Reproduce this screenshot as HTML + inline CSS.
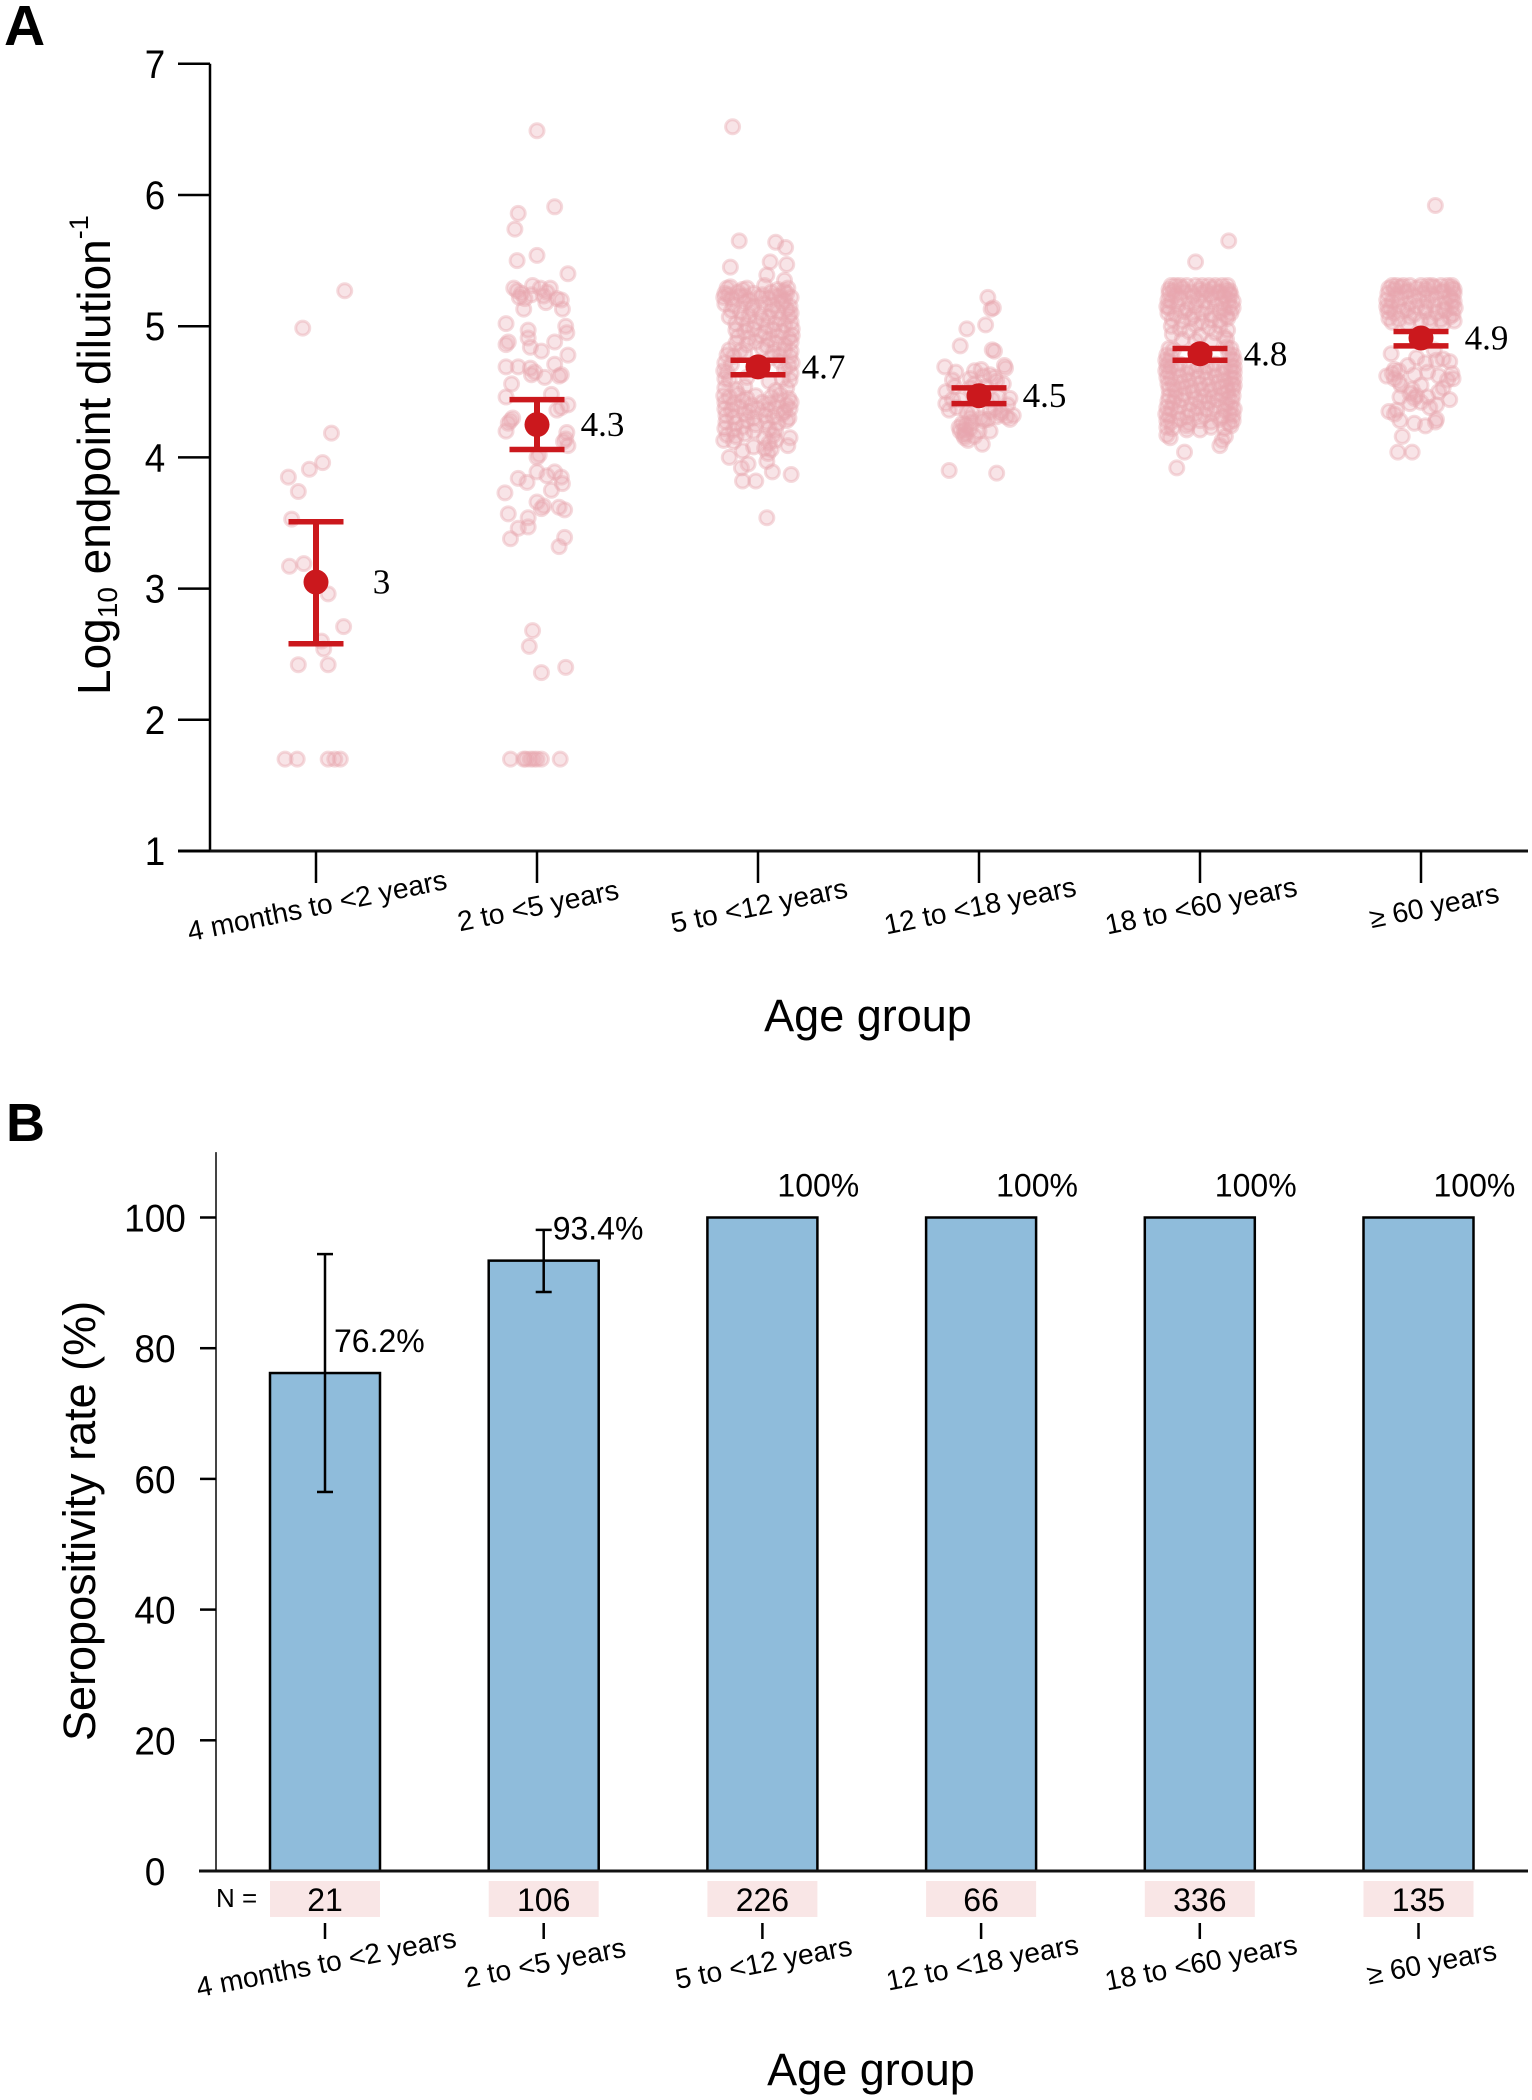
<!DOCTYPE html>
<html lang="en">
<head>
<meta charset="utf-8">
<title>Antibody titers and seropositivity by age group</title>
<style>
html,body{margin:0;padding:0;background:#fff;}
svg{display:block;}
text{font-family:"Liberation Sans",Arial,sans-serif;fill:#000;}
.serif{font-family:"Liberation Serif","Times New Roman",serif;}
</style>
</head>
<body>
<svg id="chart" xmlns="http://www.w3.org/2000/svg" width="1532" height="2100" viewBox="0 0 1532 2100">
  <rect x="0" y="0" width="1532" height="2100" fill="#fff"/>
  <text x="4" y="45" font-size="57" font-weight="bold">A</text>
  <text x="6" y="1141" font-size="54" font-weight="bold">B</text>
  <text transform="translate(110,695) rotate(-90)" font-size="46">Log<tspan font-size="28" dy="7">10</tspan><tspan dy="-7"> endpoint dilution</tspan><tspan font-size="27" dy="-22">-1</tspan></text>
  <text x="868" y="1031" font-size="45" text-anchor="middle">Age group</text>
  <text transform="translate(95,1741) rotate(-90)" font-size="45">Seropositivity rate (%)</text>
  <text x="871" y="2085" font-size="45" text-anchor="middle">Age group</text>
  <text x="216" y="1907" font-size="26">N =</text>
  <g id="panelA"></g>
  <g id="panelB"></g>
</svg>
<script>
const categories = ["4 months to <2 years","2 to <5 years","5 to <12 years","12 to <18 years","18 to <60 years","\u2265 60 years"];
const ticksA = [1,2,3,4,5,6,7];
const ticksB = [0,20,40,60,80,100];
const gmtMean = [3.05,4.25,4.69,4.47,4.79,4.91];
const gmtUpper = [3.51,4.44,4.74,4.53,4.83,4.96];
const gmtLower = [2.58,4.06,4.63,4.41,4.74,4.85];
const gmtPrinted = ["3","4.3","4.7","4.5","4.8","4.9"];
const seroRate = [76.2,93.4,100,100,100,100];
const seroPrinted = ["76.2%","93.4%","100%","100%","100%","100%"];
const seroUpper = [94.4,98.1,null,null,null,null];
const seroLower = [58,88.6,null,null,null,null];
const nCounts = ["21","106","226","66","336","135"];

// each point: [log10 titer, horizontal jitter in category units]
const scatter1 = [[5.27,.13],[4.985,-.06],[4.185,.07],[3.96,.03],[3.91,-.03],[3.85,-.125],[3.74,-.08],[3.53,-.11],[3.17,-.12],[3.19,-.055],[2.96,.055],[2.71,.125],[2.6,.025],[2.54,.035],[2.42,-.08],[2.42,.055],[1.7,-.14],[1.7,-.085],[1.7,.055],[1.7,.085],[1.7,.11]];
const scatter2 = [[6.49,0],[5.91,.08],[5.86,-.085],[5.74,-.1],[5.4,.14],[5.54,0],[5.5,-.09],[5.29,-.105],[5.25,-.07],[5.31,-.02],[5.29,.015],[5.29,.06],[5.21,-.055],[5.24,-.025],[5.23,.03],[5.21,.09],[5.2,.11],[5.13,-.06],[5.18,.04],[5.13,.115],[5.27,-.09],[5.26,.045],[5.22,-.08],[5.02,-.14],[4.97,-.04],[5,.13],[4.95,.135],[4.91,-.04],[4.88,.08],[4.88,-.13],[4.86,-.14],[4.84,-.03],[4.81,.02],[4.78,.14],[4.69,-.14],[4.69,-.085],[4.68,-.03],[4.71,.08],[4.65,-.01],[4.63,.11],[4.61,.035],[4.62,.1],[4.63,-.025],[4.56,-.115],[4.46,-.14],[4.48,.065],[4.4,.14],[4.38,.11],[4.36,.09],[4.3,-.11],[4.28,-.12],[4.26,-.13],[4.2,-.14],[4.19,.135],[4.14,.13],[4.09,.14],[4.12,.12],[4,0],[4.02,.01],[3.89,.08],[3.84,-.085],[3.81,-.045],[3.89,0],[3.86,.045],[3.85,.11],[3.8,.115],[3.75,.065],[3.73,-.145],[3.66,0],[3.57,-.13],[3.61,.02],[3.63,.03],[3.62,.1],[3.6,.125],[3.54,-.04],[3.47,-.04],[3.46,-.085],[3.38,-.12],[3.39,.125],[3.32,.1],[2.68,-.02],[2.56,-.035],[2.36,.02],[2.4,.13],[1.7,-.12],[1.7,-.06],[1.7,-.05],[1.7,-.03],[1.7,-.015],[1.7,0],[1.7,.02],[1.7,.105]];
const scatter3 = [[6.52,-.115],[5.65,-.085],[5.64,.08],[5.6,.125],[5.49,.055],[5.47,.13],[5.45,-.125],[5.39,.04],[5.35,.12],[4.13,-.155],[4.15,.145],[4.09,.135],[4,-.13],[4.05,-.07],[4.03,.045],[3.95,-.045],[3.92,-.075],[3.97,.04],[3.89,.065],[3.87,.15],[3.82,-.07],[3.82,-.01],[3.54,.04],
[5.29,-.14],[5.3,-.125],[5.28,-.07],[5.29,-.05],[5.31,.03],[5.28,.09],[5.27,.12],[5.29,.135],
[5.25,-.15],[5.24,-.135],[5.26,-.09],[5.23,-.06],[5.25,-.02],[5.24,.02],[5.26,.06],[5.23,.1],[5.25,.13],
[5.22,-.155],[5.21,-.12],[5.23,-.08],[5.2,-.04],[5.22,.01],[5.21,.05],[5.23,.08],[5.2,.12],[5.22,.15],
[5.17,-.15],[5.16,-.11],[5.18,-.06],[5.15,-.02],[5.17,.03],[5.16,.07],[5.18,.11],[5.15,.145],
[5.12,-.12],[5.11,-.08],[5.13,-.03],[5.1,.01],[5.12,.06],[5.11,.09],[5.13,.13],[5.1,.15],
[5.07,-.13],[5.06,-.07],[5.08,-.04],[5.05,.02],[5.07,.05],[5.06,.1],[5.08,.14],
[5.02,-.1],[5.01,-.05],[5.03,-.01],[5,.04],[5.02,.08],[5.01,.12],[5.03,.15],
[4.97,-.1],[4.96,-.06],[4.98,-.02],[4.95,.03],[4.97,.07],[4.96,.11],[4.98,.155],
[4.92,-.09],[4.91,-.04],[4.93,.01],[4.9,.05],[4.92,.09],[4.91,.14],[4.93,.155],
[4.87,-.1],[4.86,-.05],[4.88,-.01],[4.85,.04],[4.87,.08],[4.86,.12],[4.88,.15],
[4.82,-.13],[4.81,-.08],[4.83,.02],[4.8,.07],[4.82,.12],[4.81,.15],
[4.78,-.14],[4.77,-.11],[4.79,-.06],[4.76,.06],[4.78,.1],[4.77,.145],
[4.72,-.15],[4.71,-.12],[4.73,.1],[4.7,.14],[4.72,.155],
[4.66,-.155],[4.65,-.14],[4.67,.12],[4.64,.15],
[4.6,-.15],[4.59,-.13],[4.61,-.05],[4.58,.05],[4.6,.11],[4.59,.145],
[4.53,-.15],[4.52,-.1],[4.54,-.06],[4.51,.08],[4.53,.13],
[4.47,-.155],[4.46,-.13],[4.48,-.09],[4.45,-.05],[4.47,-.01],[4.46,.06],[4.48,.1],[4.45,.14],
[4.42,-.15],[4.41,-.11],[4.43,-.07],[4.4,-.03],[4.42,.02],[4.41,.05],[4.43,.09],[4.4,.13],[4.42,.15],
[4.37,-.15],[4.36,-.12],[4.38,-.08],[4.35,-.04],[4.37,0],[4.36,.04],[4.38,.08],[4.35,.12],[4.37,.145],
[4.32,-.145],[4.31,-.11],[4.33,-.06],[4.3,-.02],[4.32,.03],[4.31,.07],[4.33,.11],[4.3,.14],
[4.27,-.145],[4.26,-.1],[4.28,-.05],[4.25,-.01],[4.27,.04],[4.26,.09],[4.28,.13],
[4.22,-.15],[4.21,-.11],[4.23,-.07],[4.2,-.02],[4.22,.05],[4.21,.08],
[4.17,-.14],[4.16,-.1],[4.18,-.06],[4.15,.03],[4.17,.07],
[4.12,-.11],[4.11,.05],[4.13,.08],[4.08,-.02],[4.07,.03],[4.06,.06]];
const scatter4 = [[5.22,.04],[5.14,.065],[5.13,.055],[5.01,.03],[4.98,-.055],[4.85,-.085],[4.81,.07],[4.82,.06],[4.69,-.155],[4.7,.115],[4.68,.12],[4.65,-.105],[4.66,-.02],[4.67,.01],[4.63,.05],[4.59,-.12],[4.6,-.04],[4.62,.02],[4.56,.11],[4.54,-.11],[4.5,-.15],[4.53,-.04],[4.45,.14],[4.41,-.15],[4.36,-.135],[4.4,.13],[4.32,.155],[4.29,.14],[4.31,.125],[4.35,.1],[4.34,-.055],[4.3,.01],[4.26,-.075],[4.22,-.04],[4.2,-.085],[4.17,-.07],[4.13,-.05],[4.2,0],[4.2,.05],[4.1,.015],[3.9,-.135],[3.88,.08],[4.44,-.085],[4.46,.09],[4.44,-.12],[4.35,.05],[4.34,-.03],[4.31,.08],[4.3,-.04],[4.29,.04],[4.23,-.09],[4.21,-.065],[4.16,-.02],[4.15,-.065],[4.56,-.02],[4.58,.08],[4.61,.07],[4.54,.03],[4.44,.06],[4.38,-.1],[4.37,.07],[4.33,.1],[4.27,-.03],[4.25,-.06],[4.18,-.06],[4.28,.02]];
const scatter5 = [[5.65,.13],[5.49,-.02],
[5.31,-.13],[5.31,-.11],[5.31,-.09],[5.31,-.06],[5.31,-.02],[5.31,.01],[5.31,.04],[5.31,.07],[5.31,.1],[5.31,.125],
[5.28,-.14],[5.27,-.12],[5.29,-.08],[5.26,-.04],[5.28,0],[5.27,.03],[5.29,.06],[5.26,.09],[5.28,.12],[5.27,.135],
[5.25,-.14],[5.24,-.11],[5.26,-.07],[5.23,-.03],[5.25,.01],[5.24,.05],[5.26,.08],[5.23,.11],[5.25,.13],[5.24,.14],
[5.2,-.145],[5.19,-.13],[5.21,-.09],[5.18,-.05],[5.2,-.01],[5.19,.02],[5.21,.06],[5.18,.1],[5.2,.13],[5.19,.15],
[5.15,-.15],[5.14,-.14],[5.16,-.1],[5.13,-.06],[5.15,-.02],[5.14,.03],[5.16,.07],[5.13,.11],[5.15,.135],[5.14,.15],
[5.1,-.145],[5.09,-.11],[5.11,-.07],[5.08,-.03],[5.1,.01],[5.09,.05],[5.11,.09],[5.08,.12],[5.1,.14],
[5.05,-.125],[5.04,-.08],[5.06,-.04],[5.03,.01],[5.05,.05],[5.04,.09],[5.06,.125],
[5,-.13],[4.98,-.09],[5.01,-.02],[4.99,.04],[5,.09],[4.97,.125],[4.96,-.05],[4.94,-.125],[4.93,0],[4.95,.07],[4.92,.11],[4.9,-.08],[4.89,-.02],[4.88,.05],[4.9,.12],
[4.83,-.14],[4.82,-.12],[4.84,.12],[4.83,.14],[4.78,-.15],[4.77,-.13],[4.79,.13],[4.78,.15],[4.74,-.155],[4.73,-.14],[4.75,.14],[4.74,.155],
[4.7,-.15],[4.69,-.13],[4.71,-.09],[4.68,-.05],[4.7,-.01],[4.69,.03],[4.71,.07],[4.68,.11],[4.7,.14],[4.69,.155],
[4.66,-.155],[4.65,-.14],[4.67,-.1],[4.64,-.06],[4.66,-.02],[4.65,.02],[4.67,.06],[4.64,.1],[4.66,.14],[4.65,.155],
[4.61,-.15],[4.6,-.13],[4.62,-.09],[4.59,-.05],[4.61,-.01],[4.6,.03],[4.62,.07],[4.59,.11],[4.61,.14],[4.6,.155],
[4.56,-.145],[4.55,-.12],[4.57,-.08],[4.54,-.04],[4.56,0],[4.55,.04],[4.57,.08],[4.54,.12],[4.56,.145],[4.55,.155],
[4.52,-.14],[4.51,-.11],[4.53,-.07],[4.5,-.03],[4.52,.01],[4.51,.05],[4.53,.09],[4.5,.125],[4.52,.15],
[4.47,-.14],[4.46,-.11],[4.48,-.07],[4.45,-.02],[4.47,.02],[4.46,.06],[4.48,.1],[4.45,.13],[4.47,.15],
[4.43,-.145],[4.42,-.12],[4.44,-.08],[4.41,-.04],[4.43,0],[4.42,.04],[4.44,.08],[4.41,.12],[4.43,.145],
[4.38,-.15],[4.37,-.13],[4.39,-.09],[4.36,-.05],[4.38,-.01],[4.37,.03],[4.39,.07],[4.36,.11],[4.38,.14],[4.37,.155],
[4.33,-.155],[4.32,-.14],[4.34,-.1],[4.31,-.06],[4.33,-.02],[4.32,.02],[4.34,.06],[4.31,.1],[4.33,.135],[4.32,.15],
[4.28,-.15],[4.27,-.13],[4.29,-.09],[4.26,-.05],[4.28,0],[4.27,.05],[4.29,.09],[4.26,.13],[4.28,.15],
[4.23,-.15],[4.22,-.125],[4.24,-.06],[4.21,-.06],[4.21,0],[4.23,.05],[4.22,.11],[4.24,.14],
[4.15,-.135],[4.17,-.15],[4.16,.115],[4.09,.09],[4.13,.1],[4.04,-.07],[3.92,-.105]];
const scatter6 = [[5.92,.065],
[5.31,-.13],[5.31,-.11],[5.31,-.08],[5.31,-.05],[5.31,0],[5.31,.03],[5.31,.05],[5.31,.09],[5.31,.12],[5.31,.14],
[5.29,-.145],[5.28,-.12],[5.3,-.09],[5.27,-.06],[5.29,-.02],[5.28,.02],[5.3,.06],[5.27,.1],[5.29,.14],[5.28,.15],
[5.25,-.15],[5.24,-.11],[5.26,-.07],[5.23,-.03],[5.25,.01],[5.24,.05],[5.26,.09],[5.23,.13],[5.25,.15],
[5.2,-.155],[5.19,-.13],[5.21,-.09],[5.18,-.05],[5.2,-.01],[5.19,.03],[5.21,.07],[5.18,.11],[5.2,.14],[5.19,.15],
[5.15,-.155],[5.14,-.14],[5.16,-.1],[5.13,-.06],[5.15,-.02],[5.14,.02],[5.16,.06],[5.13,.1],[5.15,.14],[5.14,.155],
[5.11,-.15],[5.1,-.12],[5.12,-.08],[5.09,-.03],[5.11,.02],[5.1,.07],[5.12,.11],[5.09,.145],
[5.06,-.145],[5.05,-.1],[5.07,-.05],[5.04,0],[5.06,.04],[5.05,.09],[5.07,.13],[5.04,.15],
[5.03,-.13],[5.02,-.06],[5.03,.04],[5.02,.1],
[4.79,-.135],[4.82,.06],[4.73,.13],[4.76,-.02],[4.74,.07],[4.72,.02],[4.7,-.06],[4.75,.1],[4.67,-.12],[4.66,-.1],[4.64,-.13],[4.62,-.155],[4.6,-.12],[4.58,-.1],[4.63,-.03],[4.65,.03],[4.62,.08],[4.6,.145],[4.59,.12],[4.64,.14],[4.55,-.09],[4.52,-.04],[4.55,0],[4.5,.08],[4.53,.1],[4.46,-.095],[4.47,-.02],[4.49,-.05],[4.44,.13],[4.45,-.03],[4.42,0],[4.46,.03],[4.4,.07],[4.41,-.05],[4.38,.04],[4.35,-.145],[4.36,-.11],[4.33,-.12],[4.28,-.095],[4.26,-.03],[4.24,.02],[4.27,.065],[4.29,.07],[4.16,-.085],[4.04,-.105],[4.04,-.04]];
const scatterGroups = [scatter1,scatter2,scatter3,scatter4,scatter5,scatter6];

const SVGNS = "http://www.w3.org/2000/svg";
const panelA = document.getElementById("panelA");
const panelB = document.getElementById("panelB");
function mk(parent, tag, attrs, txt) {
  const node = document.createElementNS(SVGNS, tag);
  for (const k in attrs) node.setAttribute(k, attrs[k]);
  if (txt !== undefined) node.textContent = txt;
  parent.appendChild(node);
  return node;
}
// axis functions
function xA(i) { return 316 + 221 * i; }
function yA(v) { return 851 - (v - 1) * 131.2; }
function xB(i) { return 325 + 218.7 * i; }
function yB(v) { return 1871 - v * 6.535; }
const BLACK = "#000";
let el;

/* ---------- Panel A ---------- */
el = mk(panelA, "line", {x1:210, x2:210, y1:yA(7), y2:yA(1), stroke:BLACK, "stroke-width":2.5});


el = mk(panelA, "line", {x1:178, x2:1528, y1:yA(1), y2:yA(1), stroke:"#111", "stroke-width":3});


ticksA.forEach(function (t) {
  el = mk(panelA, "line", {x1:178, x2:210, y1:yA(t), y2:yA(t), stroke:BLACK, "stroke-width":2.5});
  
  
  el = mk(panelA, "text", {x:0, y:0, "font-size":40, "text-anchor":"middle", transform:"translate(155," + (yA(t) + 14) + ") scale(0.92,1)"}, t);
  
  
});
categories.forEach(function (c, i) {
  el = mk(panelA, "line", {x1:xA(i), x2:xA(i), y1:yA(1), y2:883, stroke:BLACK, "stroke-width":2.5});
  
  
  const cx = xA(i) + (i === 5 ? 15 : 3);
  el = mk(panelA, "text", {x:cx, y:915, "font-size":28.2, "text-anchor":"middle", transform:"rotate(-11.5 " + cx + " 915)"}, c);
  
  
});
scatterGroups.forEach(function (group, i) {
  group.forEach(function (p) {
    el = mk(panelA, "circle", {cx:xA(i + p[1]), cy:yA(p[0]), r:7, fill:"#e8a7ae", "fill-opacity":0.3, stroke:"#e8a7ae", "stroke-opacity":0.42, "stroke-width":3});
    
    
  });
});
gmtMean.forEach(function (m, i) {
  const x = xA(i);
  el = mk(panelA, "line", {x1:x, x2:x, y1:yA(gmtUpper[i]), y2:yA(gmtLower[i]), stroke:"#cb181d", "stroke-width":6});
  
  
  el = mk(panelA, "line", {x1:x - 27.5, x2:x + 27.5, y1:yA(gmtUpper[i]), y2:yA(gmtUpper[i]), stroke:"#cb181d", "stroke-width":5.5});
  
  
  el = mk(panelA, "line", {x1:x - 27.5, x2:x + 27.5, y1:yA(gmtLower[i]), y2:yA(gmtLower[i]), stroke:"#cb181d", "stroke-width":5.5});
  
  
  el = mk(panelA, "circle", {cx:x, cy:yA(m), r:12.5, fill:"#cb181d"});
  
  
  el = mk(panelA, "text", {x:x + 65.5, y:yA(m) + 11.5, "font-size":35, "text-anchor":"middle", "class":"serif"}, gmtPrinted[i]);
  
  
});

/* ---------- Panel B ---------- */
el = mk(panelB, "line", {x1:216, x2:216, y1:yB(110), y2:yB(0), stroke:"#444", "stroke-width":2});


ticksB.forEach(function (t) {
  if (t > 0) {
    el = mk(panelB, "line", {x1:200, x2:216, y1:yB(t), y2:yB(t), stroke:BLACK, "stroke-width":2.5});
    
    
  }
  el = mk(panelB, "text", {x:0, y:0, "font-size":39, "text-anchor":"middle", transform:"translate(155," + (yB(t) + 14) + ") scale(0.95,1)"}, t);
  
  
});
seroRate.forEach(function (v, i) {
  const x = xB(i);
  el = mk(panelB, "rect", {x:x - 55, y:yB(v), width:110, height:yB(0) - yB(v), fill:"#8fbcdb", stroke:"#000", "stroke-width":2.5});
  
  
  if (seroUpper[i] !== null) {
    el = mk(panelB, "line", {x1:x, x2:x, y1:yB(seroUpper[i]), y2:yB(seroLower[i]), stroke:BLACK, "stroke-width":2.5});
    
    
    el = mk(panelB, "line", {x1:x - 8, x2:x + 8, y1:yB(seroUpper[i]), y2:yB(seroUpper[i]), stroke:BLACK, "stroke-width":2.5});
    
    
    el = mk(panelB, "line", {x1:x - 8, x2:x + 8, y1:yB(seroLower[i]), y2:yB(seroLower[i]), stroke:BLACK, "stroke-width":2.5});
    
    
  }
  el = mk(panelB, "text", {x:x + (i < 2 ? 9 : 15), y:yB(v) - 21, "font-size":32}, seroPrinted[i]);
  
  
  el = mk(panelB, "rect", {x:x - 55, y:1881, width:110, height:36, fill:"#f9e6e6"});
  
  
  el = mk(panelB, "text", {x:x, y:1911, "font-size":32, "text-anchor":"middle"}, nCounts[i]);
  
  
  el = mk(panelB, "line", {x1:x, x2:x, y1:1923, y2:1939, stroke:BLACK, "stroke-width":2.5});
  
  
  const cx = x + (i === 5 ? 15 : 3);
  el = mk(panelB, "text", {x:cx, y:1972, "font-size":28.2, "text-anchor":"middle", transform:"rotate(-11 " + cx + " 1972)"}, categories[i]);
  
  
});
el = mk(panelB, "line", {x1:199, x2:1528, y1:yB(0), y2:yB(0), stroke:"#111", "stroke-width":3});


</script>
</body>
</html>
